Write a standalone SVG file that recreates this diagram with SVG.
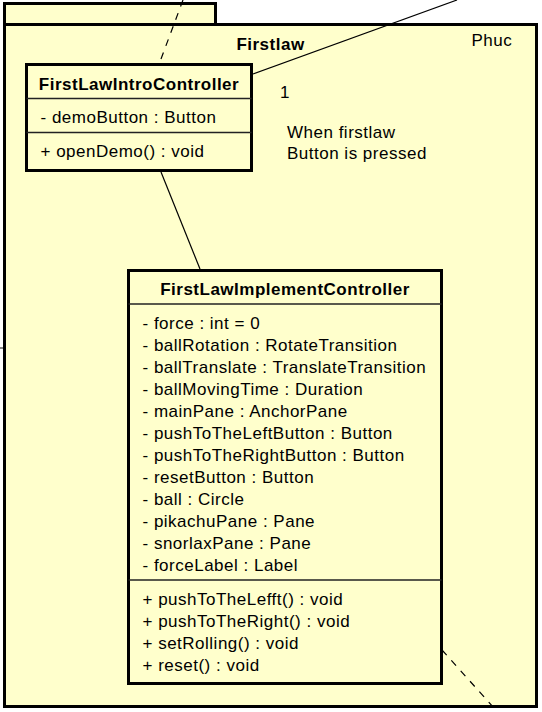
<svg xmlns="http://www.w3.org/2000/svg" width="542" height="712" viewBox="0 0 542 712">
<style>
.pkg{fill:#FFFFCC;stroke:#000;stroke-width:3}
.cls{fill:#FFFFCC;stroke:#000;stroke-width:3}
.div{stroke:#222;stroke-width:1.5}
text{font-family:"Liberation Sans",Arial,sans-serif;font-size:17px;letter-spacing:0.5px;fill:#000}
.b{font-weight:bold}
.m{text-anchor:middle}
.ln{fill:none;stroke:#000;stroke-width:1.2}
.dash{fill:none;stroke:#000;stroke-width:1.2;stroke-dasharray:7,7}
</style>
<g id="package-Firstlaw">
<rect class="pkg" x="4.5" y="3.5" width="211" height="21"/>
<rect class="pkg" x="4.5" y="24.5" width="532" height="682"/>
<text class="b m" x="270.5" y="50">Firstlaw</text>
<text x="471.5" y="46">Phuc</text>
</g>
<g id="FirstLawIntroController">
<rect class="cls" x="26.5" y="64.5" width="225" height="106"/>
<line class="div" x1="26.5" y1="98.5" x2="251.5" y2="98.5"/>
<line class="div" x1="26.5" y1="132.5" x2="251.5" y2="132.5"/>
<text class="b m" x="139" y="89.5">FirstLawIntroController</text>
<text x="40.5" y="123">- demoButton : Button</text>
<text x="40.5" y="157">+ openDemo() : void</text>
</g>
<g id="FirstLawImplementController">
<rect class="cls" x="128.5" y="270.5" width="313" height="413"/>
<line class="div" x1="128.5" y1="304" x2="441.5" y2="304"/>
<line class="div" x1="128.5" y1="580" x2="441.5" y2="580"/>
<text class="b m" x="285" y="295">FirstLawImplementController</text>
<text x="142.5" y="328.5">- force : int = 0</text>
<text x="142.5" y="350.5">- ballRotation : RotateTransition</text>
<text x="142.5" y="372.5">- ballTranslate : TranslateTransition</text>
<text x="142.5" y="394.5">- ballMovingTime : Duration</text>
<text x="142.5" y="416.5">- mainPane : AnchorPane</text>
<text x="142.5" y="438.5">- pushToTheLeftButton : Button</text>
<text x="142.5" y="460.5">- pushToTheRightButton : Button</text>
<text x="142.5" y="482.5">- resetButton : Button</text>
<text x="142.5" y="504.5">- ball : Circle</text>
<text x="142.5" y="526.5">- pikachuPane : Pane</text>
<text x="142.5" y="548.5">- snorlaxPane : Pane</text>
<text x="142.5" y="570.5">- forceLabel : Label</text>
<text x="142.5" y="605">+ pushToTheLefft() : void</text>
<text x="142.5" y="627">+ pushToTheRight() : void</text>
<text x="142.5" y="649">+ setRolling() : void</text>
<text x="142.5" y="671">+ reset() : void</text>
</g>
<g id="connectors">
<line class="dash" x1="183" y1="0" x2="159.5" y2="63"/>
<line class="ln" x1="253" y1="74" x2="457" y2="0"/>
<line class="ln" x1="161" y1="172" x2="200" y2="269"/>
<line class="dash" x1="442" y1="650" x2="497.6" y2="712"/>
<line x1="0" y1="348" x2="3" y2="348" stroke="#888" stroke-width="2"/>
<text x="280" y="98">1</text>
<text x="287" y="137.5">When firstlaw</text>
<text x="287" y="159">Button is pressed</text>
</g>
</svg>
